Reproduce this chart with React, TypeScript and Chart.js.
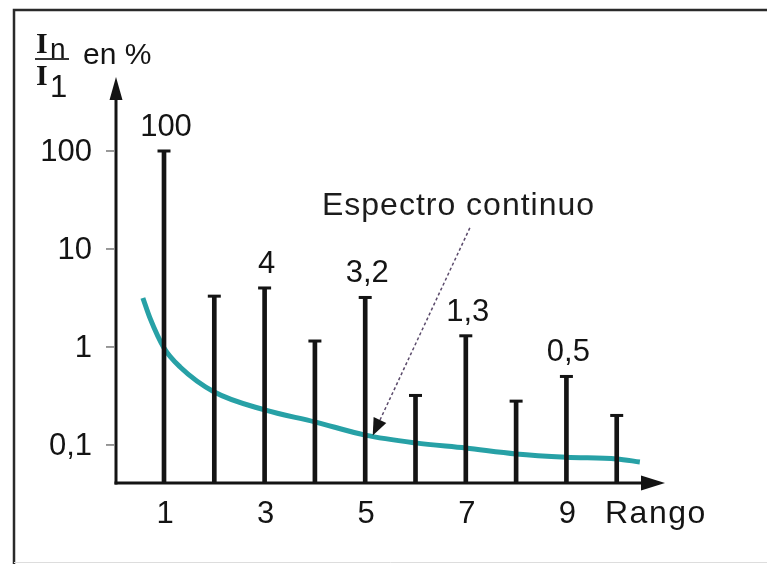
import React, { useEffect, useRef } from "react";
import { Chart, registerables } from "chart.js";

Chart.register(...registerables);

// ---- data ----
const harmonics = [1, 2, 3, 4, 5, 6, 7, 8, 9, 10];
const amplitudes = [100, 3.3, 4, 1.15, 3.2, 0.32, 1.3, 0.28, 0.5, 0.2];
const labelledHarmonics = [1, 3, 5, 7, 9];
const curveX = [0.58, 0.72, 1, 1.32, 2, 3, 4, 5, 6, 7, 8, 9, 10, 10.46];
const curveY = [3.16, 1.98, 0.977, 0.625, 0.347, 0.228, 0.172, 0.126, 0.105, 0.093, 0.081, 0.075, 0.072, 0.067];
const yTickValues = [100, 10, 1, 0.1];
const xTickValues = [1, 3, 5, 7, 9];
const xAxisTitle = "Rango";
const yAxisUnit = "en %";
const curveLabel = "Espectro continuo";
const curveLabelAnchor = { x: 4.14, y: 22.2 };
const arrowStart = { x: 7.08, y: 16.4 };
const arrowTip = { x: 5.15, y: 0.125 };
const xRange = { min: 0.0457, max: 10.96 };
const yRange = { min: 0.0409, max: 569 };

const fmt = (v: number) => String(v).replace(".", ",");
const SANS = '"Liberation Sans", Arial, Helvetica, sans-serif';
const SERIF = '"Liberation Serif", "Times New Roman", serif';
const INK = "#141414";
const TEAL = "#27a1a6";

const overlay = {
  id: "overlay",
  afterDraw(chart: any) {
    const ctx = chart.ctx as CanvasRenderingContext2D;
    const xs = chart.scales.x;
    const ys = chart.scales.y;
    const area = chart.chartArea;
    ctx.save();

    // frame
    ctx.strokeStyle = "#2a2a2a";
    ctx.lineWidth = 2.5;
    ctx.beginPath();
    ctx.moveTo(14, 564);
    ctx.lineTo(14, 10);
    ctx.lineTo(767, 10);
    ctx.stroke();
    ctx.strokeStyle = "#dddddd";
    ctx.lineWidth = 1;
    ctx.beginPath();
    ctx.moveTo(14, 562.5);
    ctx.lineTo(767, 562.5);
    ctx.stroke();

    // axes
    const ax = area.left;
    const ay = area.bottom;
    ctx.strokeStyle = INK;
    ctx.fillStyle = INK;
    ctx.lineWidth = 3;
    ctx.beginPath();
    ctx.moveTo(ax, ay + 1.5);
    ctx.lineTo(ax, area.top + 20);
    ctx.stroke();
    ctx.beginPath();
    ctx.moveTo(ax, area.top);
    ctx.lineTo(ax - 6.5, area.top + 23);
    ctx.lineTo(ax + 6.5, area.top + 23);
    ctx.closePath();
    ctx.fill();
    ctx.beginPath();
    ctx.moveTo(ax - 1.5, ay);
    ctx.lineTo(area.right - 20, ay);
    ctx.stroke();
    ctx.beginPath();
    ctx.moveTo(area.right, ay);
    ctx.lineTo(area.right - 24, ay - 7.5);
    ctx.lineTo(area.right - 24, ay + 7.5);
    ctx.closePath();
    ctx.fill();

    // y ticks
    ctx.font = `31px ${SANS}`;
    ctx.textAlign = "right";
    ctx.textBaseline = "alphabetic";
    yTickValues.forEach((v) => {
      const py = ys.getPixelForValue(v);
      ctx.strokeStyle = "#777";
      ctx.lineWidth = 1.5;
      ctx.beginPath();
      ctx.moveTo(ax - 10, py);
      ctx.lineTo(ax - 2, py);
      ctx.stroke();
      ctx.fillStyle = INK;
      ctx.fillText(fmt(v), 92, py + 10);
    });

    // x ticks
    ctx.textAlign = "center";
    xTickValues.forEach((v) => {
      ctx.fillText(String(v), xs.getPixelForValue(v) + 1, 523);
    });
    ctx.textAlign = "left";
    ctx.font = `32px ${SANS}`;
    (ctx as any).letterSpacing = "1.5px";
    ctx.fillText(xAxisTitle, 605, 523);
    (ctx as any).letterSpacing = "0px";

    // value labels above bars
    ctx.font = `31px ${SANS}`;
    ctx.textAlign = "center";
    labelledHarmonics.forEach((h) => {
      const i = harmonics.indexOf(h);
      const v = amplitudes[i];
      const px = xs.getPixelForValue(h) + 2;
      const py = ys.getPixelForValue(v);
      ctx.fillText(fmt(v), px, py - 15);
    });

    // y title fraction
    ctx.textAlign = "left";
    ctx.font = `bold 30px ${SERIF}`;
    ctx.fillText("I", 36, 53);
    ctx.fillText("I", 36, 85);
    ctx.font = `28px ${SANS}`;
    ctx.fillText("n", 50, 58);
    ctx.font = `31px ${SANS}`;
    ctx.fillText("1", 50, 97);
    ctx.lineWidth = 2;
    ctx.strokeStyle = "#333";
    ctx.beginPath();
    ctx.moveTo(35, 59);
    ctx.lineTo(69, 59);
    ctx.stroke();
    ctx.font = `30px ${SANS}`;
    ctx.fillText(yAxisUnit, 83, 64);

    // annotation
    ctx.font = `32px ${SANS}`;
    (ctx as any).letterSpacing = "1px";
    ctx.fillStyle = "#1c1c1c";
    ctx.fillText(curveLabel, xs.getPixelForValue(curveLabelAnchor.x), ys.getPixelForValue(curveLabelAnchor.y));
    (ctx as any).letterSpacing = "0px";
    const sx = xs.getPixelForValue(arrowStart.x);
    const sy = ys.getPixelForValue(arrowStart.y);
    const tx = xs.getPixelForValue(arrowTip.x);
    const ty = ys.getPixelForValue(arrowTip.y);
    const dx = tx - sx;
    const dy = ty - sy;
    const len = Math.hypot(dx, dy);
    const ux = dx / len;
    const uy = dy / len;
    const headLen = 17;
    const headHalf = 7;
    ctx.strokeStyle = "#5b4b6b";
    ctx.lineWidth = 1.5;
    ctx.setLineDash([3, 2.5]);
    ctx.beginPath();
    ctx.moveTo(sx, sy);
    ctx.lineTo(tx - ux * headLen, ty - uy * headLen);
    ctx.stroke();
    ctx.setLineDash([]);
    ctx.fillStyle = INK;
    const bx = tx - ux * headLen;
    const by = ty - uy * headLen;
    ctx.beginPath();
    ctx.moveTo(tx, ty);
    ctx.lineTo(bx - uy * headHalf, by + ux * headHalf);
    ctx.lineTo(bx + uy * headHalf, by - ux * headHalf);
    ctx.closePath();
    ctx.fill();

    ctx.restore();
  },
};

export default function App() {
  const ref = useRef<HTMLCanvasElement | null>(null);
  useEffect(() => {
    if (!ref.current) return;
    const barData = harmonics.map((h, i) => ({ x: h, y: amplitudes[i] }));
    const curveData = curveX.map((x, i) => ({ x, y: curveY[i] }));
    const chart = new Chart(ref.current, {
      type: "bar",
      data: {
        datasets: [
          {
            type: "line",
            label: curveLabel,
            data: curveData,
            borderColor: TEAL,
            borderWidth: 5,
            pointRadius: 0,
            cubicInterpolationMode: "monotone",
            fill: false,
            order: 3,
          } as any,
          {
            type: "bar",
            label: "I_n/I_1",
            data: barData,
            backgroundColor: INK,
            borderWidth: 0,
            barThickness: 4,
            order: 2,
          } as any,
          {
            type: "line",
            label: "caps",
            data: barData,
            showLine: false,
            pointStyle: "line",
            pointRadius: 6.5,
            pointBorderWidth: 3,
            pointBorderColor: INK,
            borderColor: INK,
            order: 1,
          } as any,
        ],
      },
      options: {
        responsive: false,
        animation: false,
        devicePixelRatio: 1,
        layout: { padding: { left: 116, right: 102, top: 77, bottom: 81 } },
        plugins: { legend: { display: false }, tooltip: { enabled: false } },
        scales: {
          x: { type: "linear", min: xRange.min, max: xRange.max, offset: false, bounds: "data", display: false },
          y: { type: "logarithmic", min: yRange.min, max: yRange.max, bounds: "data", display: false },
        },
      } as any,
      plugins: [overlay],
    });
    return () => chart.destroy();
  }, []);
  return (
    <div style={{ position: "absolute", left: 0, top: 0, width: 767, height: 564, background: "#fff" }}>
      <canvas ref={ref} width={767} height={564} style={{ display: "block" }} />
    </div>
  );
}
